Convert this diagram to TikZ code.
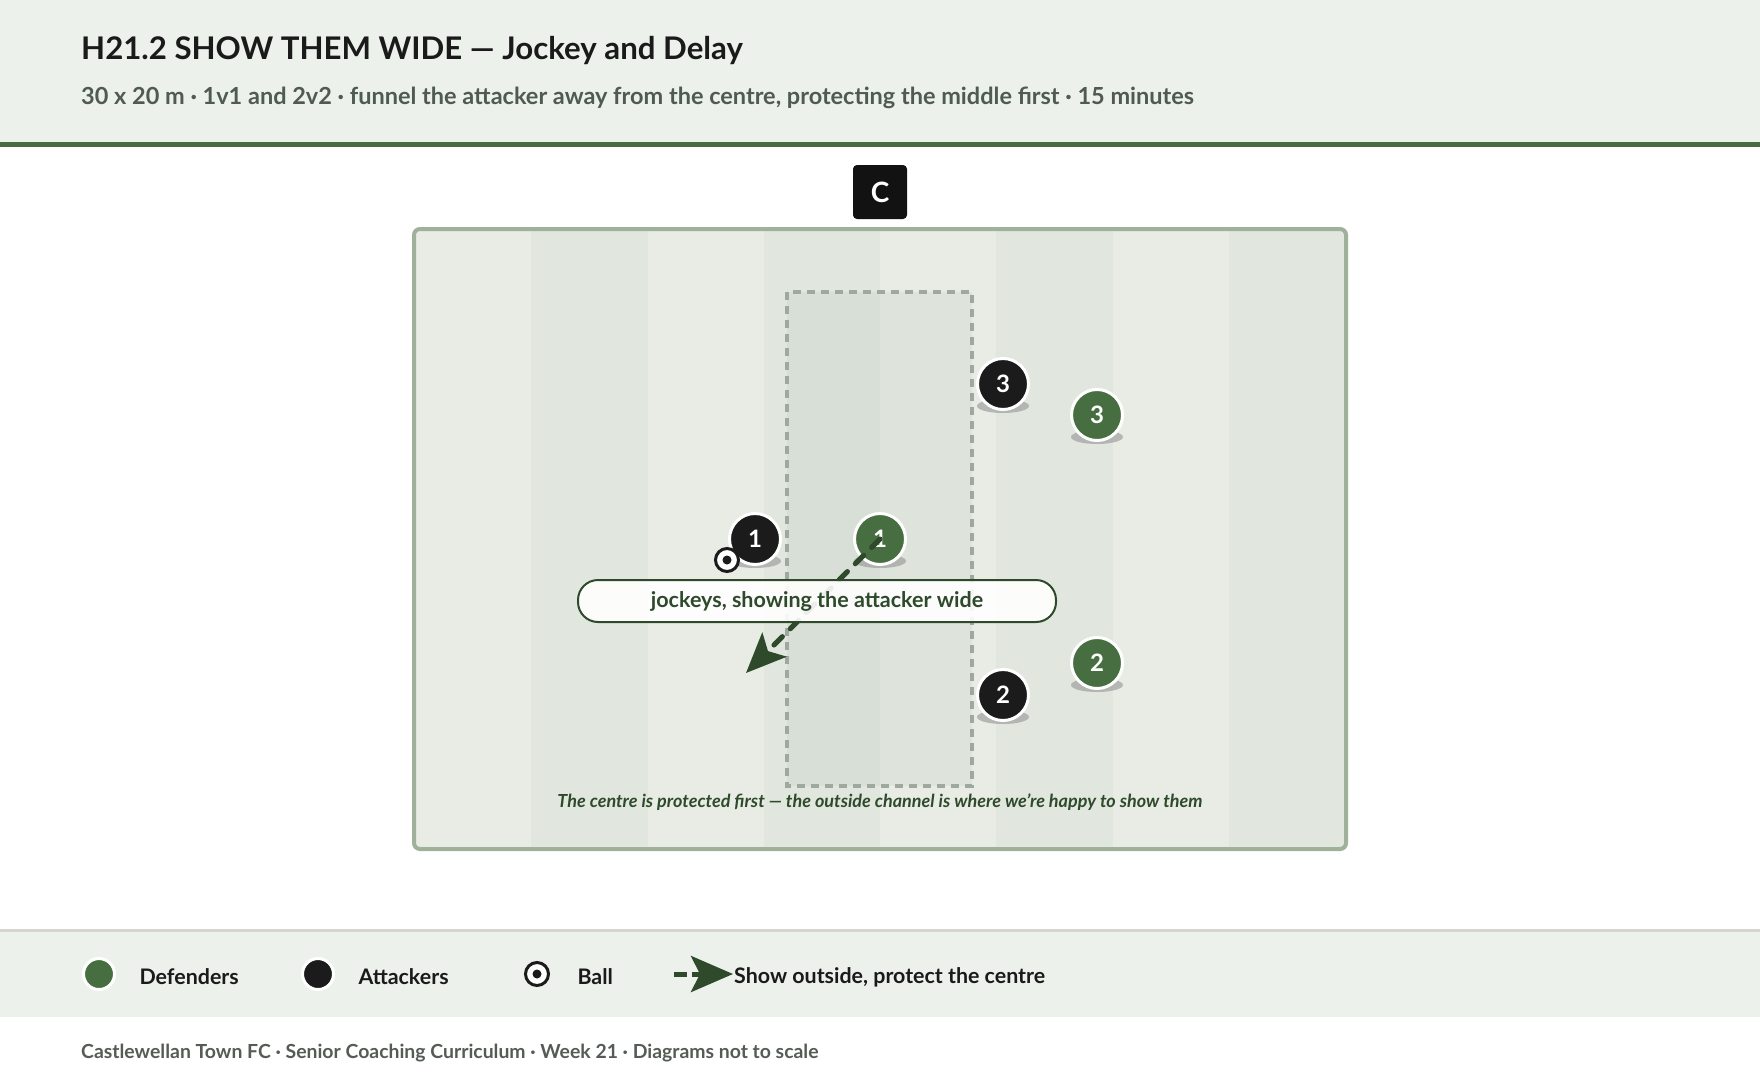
\documentclass[tikz,border=0pt]{standalone}
\usepackage{fontspec}
\setmainfont{Lato}
\usetikzlibrary{arrows.meta}
\definecolor{hdrbg}{HTML}{ECF1EC}
\definecolor{barg}{HTML}{4A6B40}
\definecolor{titlec}{HTML}{1A1A1A}
\definecolor{subc}{HTML}{4F5A50}
\definecolor{pitchline}{HTML}{A0B19B}
\definecolor{stripeA}{HTML}{E8ECE5}
\definecolor{stripeB}{HTML}{E1E7DF}
\definecolor{zonec}{HTML}{9EA89E}
\definecolor{zonefill}{HTML}{A8B8A4}
\definecolor{defc}{HTML}{476E40}
\definecolor{attc}{HTML}{1B1B1B}
\definecolor{arrc}{HTML}{2E4A2B}
\definecolor{footline}{HTML}{D6D4CD}
\definecolor{footc}{HTML}{555B55}
\tikzset{
  player/.style={circle, minimum size=51pt, inner sep=0pt, line width=3pt, draw=white, text=white, font=\fontsize{24}{24}\selectfont\bfseries},
  defender/.style={player, fill=defc},
  attacker/.style={player, fill=attc},
  legdot/.style={circle, minimum size=31pt, inner sep=0pt, line width=3pt, draw=white},
  ballnode/.style={circle, minimum size=23pt, inner sep=0pt, line width=3pt, draw=attc, fill=white},
  shadow/.style={fill=black!45, opacity=0.55},
  runarrow/.style={draw=arrc, line width=5pt, line cap=round, dash pattern=on 12pt off 11pt, -{Stealth[length=40pt,width=34pt,inset=9pt]}},
  legtext/.style={anchor=west, text=titlec, font=\fontsize{21.4}{21.4}\selectfont\bfseries},
}
\begin{document}
\begin{tikzpicture}[x=1pt,y=-1pt]
\path[use as bounding box] (0,0) rectangle (1760,1074);
\fill[white] (0,0) rectangle (1760,1074);
% header
\fill[hdrbg] (0,0) rectangle (1760,143);
\fill[barg] (0,142) rectangle (1760,147);
\node[anchor=west, text=titlec, font=\fontsize{31.2}{31.2}\selectfont\bfseries, inner sep=0pt] (title) at (81,51) {H21.2 SHOW THEM WIDE — Jockey and Delay};
\node[anchor=west, text=subc, font=\fontsize{23.5}{23.5}\selectfont\bfseries, inner sep=0pt] (subtitle) at (81,98) {30 x 20 m · 1v1 and 2v2 · funnel the attacker away from the centre, protecting the middle first · 15 minutes};
% coach
\node[fill=black!93, rounded corners=4pt, minimum size=54pt, inner sep=0pt, text=white, font=\fontsize{28}{28}\selectfont\bfseries] (coach) at (880,192) {C};
% pitch stripes
\foreach \i in {0,...,7} {
  \pgfmathsetmacro{\xa}{415+116.25*\i}
  \pgfmathsetmacro{\xb}{415+116.25*(\i+1)}
  \pgfmathparse{mod(\i,2)==0 ? "stripeA" : "stripeB"}
  \fill[\pgfmathresult] (\xa,230) rectangle (\xb,848);
}
\draw[pitchline, line width=4pt, rounded corners=6pt] (414,229) rectangle (1346,849);
% central zone
\fill[zonefill, opacity=0.15] (787,292) rectangle (972,786);
\draw[zonec, line width=3.5pt, dash pattern=on 8pt off 6pt] (787,292) rectangle (972,786);
% shadows
\foreach \px/\py in {755/539, 880/539, 1003/384, 1097/415, 1097/663, 1003/695} {
  \fill[shadow] (\px,\py+22) ellipse [x radius=26pt, y radius=7pt];
}
% players
\node[attacker] (a1) at (755,539) {1};
\node[defender] (d1) at (880,539) {1};
\node[attacker] (a3) at (1003,384) {3};
\node[defender] (d3) at (1097,415) {3};
\node[defender] (d2) at (1097,663) {2};
\node[attacker] (a2) at (1003,695) {2};
% ball
\node[ballnode] (ball) at (727,560) {};
\fill[attc] (ball.center) circle (4.5pt);
% run arrow
\coordinate (tip) at (746,673);
\draw[runarrow] (d1.center) -- (tip);
% label
\node[draw=arrc, line width=2pt, fill=white, fill opacity=0.9, text opacity=1, rounded corners=20pt, minimum width=478pt, minimum height=42pt, text=arrc, font=\fontsize{21.5}{21.5}\selectfont\bfseries] (lbl) at (817,601) {\raisebox{-2pt}{jockeys, showing the attacker wide}};
% caption
\node[text=arrc, font=\fontsize{18}{18}\selectfont\bfseries\itshape] (cap) at (880,802) {The centre is protected first — the outside channel is where we're happy to show them};
% legend band
\fill[hdrbg] (0,931) rectangle (1760,1017);
\fill[footline] (0,929) rectangle (1760,932);
\node[legdot, fill=defc] (ld) at (99,974) {};
\node[legtext] (ldt) at (136,977) {Defenders};
\node[legdot, fill=attc] (la) at (318,974) {};
\node[legtext] (lat) at (355,977) {Attackers};
\node[ballnode] (lb) at (537,974) {};
\fill[attc] (lb.center) circle (4.5pt);
\node[legtext] (lbt) at (574,977) {Ball};
\coordinate (lr1) at (674,974);
\coordinate (lr2) at (733,974);
\draw[draw=arrc, line width=5pt, dash pattern=on 13pt off 5pt, -{Stealth[length=42pt,width=36pt,inset=9pt]}] (lr1) -- (lr2);
\node[legtext, inner sep=1pt] (lrt) at (733,977) {Show outside, protect the centre};
% footer
\node[anchor=west, text=footc, font=\fontsize{19.4}{19.4}\selectfont\bfseries, inner sep=0pt] (foot) at (81,1053) {Castlewellan Town FC · Senior Coaching Curriculum · Week 21 · Diagrams not to scale};
\end{tikzpicture}
\end{document}
